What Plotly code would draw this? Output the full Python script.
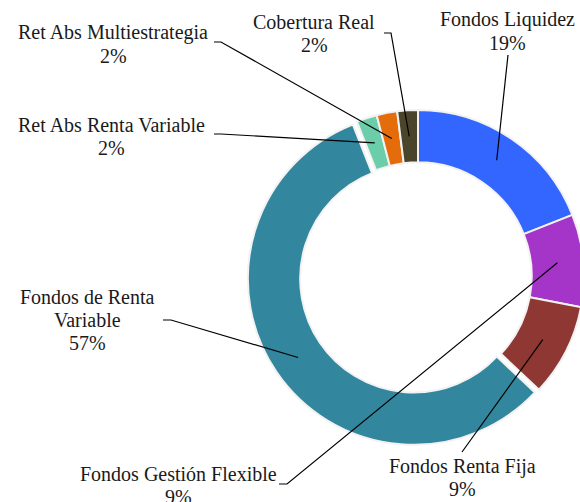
import math
import plotly.graph_objects as go

# ---- data ----
labels = ["Fondos Liquidez", "Fondos Gestión Flexible", "Fondos Renta Fija",
          "Fondos de Renta Variable", "Ret Abs Renta Variable",
          "Ret Abs Multiestrategia", "Cobertura Real"]
label_lines = [["Fondos Liquidez"], ["Fondos Gestión Flexible"], ["Fondos Renta Fija"],
               ["Fondos de Renta", "Variable"], ["Ret Abs Renta Variable"],
               ["Ret Abs Multiestrategia"], ["Cobertura Real"]]
values = [19, 9, 9, 57, 2, 2, 2]
colors = ["#3366FF", "#A535C9", "#8E3733", "#32869D", "#6BCDA9", "#E46C0A", "#4A452A"]
pulls = [0, 0, 0, 0.03, 0, 0, 0]

# ---- layout geometry (pixels) ----
W, H = 600, 502
CX, CY, R = 418, 276, 166
maxpull = max(pulls)
box = R * (2 + 2 * maxpull)
dom_x = [(CX - box / 2) / W, (CX + box / 2) / W]
dom_y = [1 - (CY + box / 2) / H, 1 - (CY - box / 2) / H]

# label first-line centre, line step, leader line start points (hook start, hook end)
label_pos = [(507, 20), (178, 474), (462, 466), (87, 297), (111, 125), (113, 33), (314, 22)]
LINE_STEP = 23
leader_start = [[(508, 55)], [(279, 484), (287, 484)], [(462, 452)],
                [(163, 320), (171, 320)], [(214, 134), (221, 134)],
                [(214, 42), (221, 42)], [(384, 33), (391, 33)]]
R_MID = 140
FONT = "'Liberation Serif', 'Times New Roman', Times, serif"

def px(x, y):
    return x / W, 1 - y / H

fig = go.Figure(go.Pie(
    labels=labels, values=values, sort=False, direction="clockwise", rotation=0,
    hole=0.685, pull=pulls, textinfo="none", hoverinfo="label+percent",
    marker=dict(colors=colors, line=dict(color="#F2F2F2", width=2)),
    domain=dict(x=dom_x, y=dom_y), showlegend=False,
))

total = sum(values)
cum = 0
shapes, annos = [], []
for i, v in enumerate(values):
    mid = (cum + v / 2) / total * 2 * math.pi
    cum += v
    rr = R_MID + pulls[i] * R
    ex, ey = CX + rr * math.sin(mid), CY - rr * math.cos(mid)
    pts = leader_start[i] + [(ex, ey)]
    path = ""
    for j, (x, y) in enumerate(pts):
        a, b = px(x, y)
        path += ("M" if j == 0 else " L") + f"{a:.5f},{b:.5f}"
    shapes.append(dict(type="path", path=path, xref="paper", yref="paper",
                       line=dict(color="black", width=1.2)))
    pct = round(v / total * 100)
    lines = label_lines[i] + [f"{pct}%"]
    x0, y0 = label_pos[i]
    for k, t in enumerate(lines):
        lx, ly = px(x0, y0 + k * LINE_STEP)
        annos.append(dict(x=lx, y=ly, xref="paper", yref="paper", showarrow=False,
                          xanchor="center", yanchor="middle", text=t,
                          font=dict(family=FONT, size=20, color="#1a1a1a")))

fig.update_layout(width=W, height=H, margin=dict(l=0, r=0, t=0, b=0),
                  paper_bgcolor="white", plot_bgcolor="white",
                  font=dict(family=FONT),
                  shapes=shapes, annotations=annos)

fig.write_html("out.html", config={"displayModeBar": False}, post_script=(
    "document.body.style.margin='0';document.body.style.overflow='hidden';"
    "document.documentElement.style.overflow='hidden';"))
